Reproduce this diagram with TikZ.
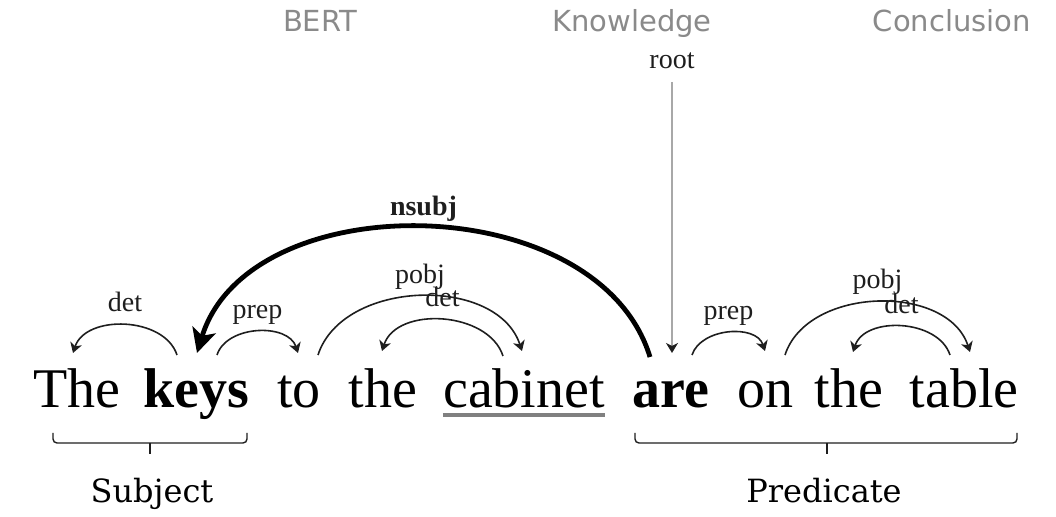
\documentclass[tikz,border=0pt]{standalone}
\usepackage{fontspec}
\setmainfont{Liberation Serif}
\newfontfamily\topfont{DejaVu Sans}
\newfontfamily\partfont{DejaVu Serif}
\usepackage{xcolor}
\usetikzlibrary{arrows.meta}

\definecolor{topgray}{HTML}{8A8A8A}
\definecolor{rootgray}{HTML}{A8A8A8}
\definecolor{arcink}{HTML}{1E1E1E}

\begin{document}
\begin{tikzpicture}[
      x=0.5pt, y=0.5pt,
      word/.style={anchor=base, inner sep=0pt, font=\fontsize{28}{32}\selectfont},
      lbl/.style={anchor=base, inner sep=0pt, yshift=6.5pt,
                  font=\fontsize{14}{16}\selectfont, text=arcink},
      toplbl/.style={anchor=base, inner sep=0pt, text=topgray,
                  font=\topfont\fontsize{14.5}{17}\selectfont},
      part/.style={anchor=base, inner sep=0pt, font=\partfont\fontsize{16}{19}\selectfont},
      dep/.style={draw=arcink, line width=0.8pt,
                  -{Stealth[length=5pt, width=6pt, inset=1.5pt]}},
      head/.style={draw=black, line width=2.4pt,
                  -{Stealth[length=12pt, width=12pt, inset=3pt]}},
      rootarr/.style={draw=rootgray, line width=1.2pt,
                  -{Stealth[length=5pt, width=6pt, inset=1.5pt, color=arcink]}},
      brk/.style={draw=arcink, line width=0.7pt, rounded corners=2pt}
    ]
      \useasboundingbox (0,-109) rectangle (1056,408);

      % slide headings
      \node[toplbl] (bert)  at (320,376) {BERT};
      \node[toplbl] (know)  at (632,376) {Knowledge};
      \node[toplbl] (concl) at (952,376) {Conclusion};

      % the sentence
      \node[word] (w1) at (77,0)  {The};
      \node[word] (w2) at (196,0) {\bfseries keys};
      \node[word] (w3) at (299,0) {to};
      \node[word] (w4) at (383,0) {the};
      \node[word] (w5) at (524,0) {cabinet};
      \node[word] (w6) at (671,0) {\bfseries are};
      \node[word] (w7) at (765,0) {on};
      \node[word] (w8) at (849,0) {the};
      \node[word] (w9) at (964,0) {table};
      \draw[gray, line width=1.6pt] ([yshift=-3.5pt]w5.base west) -- ([yshift=-3.5pt]w5.base east);

      % dependency arcs
      \draw[dep] ([shift={(-19,53)}]w2.base) to[out=108, in=72]
          node[lbl, pos=0.5] {det} ([shift={(-4,55)}]w1.base);
      \draw[dep] ([shift={(21,53)}]w2.base) to[out=72, in=108]
          node[lbl, pos=0.5] {prep} ([shift={(-1,55)}]w3.base);
      \draw[dep] ([shift={(19,53)}]w3.base) to[out=72, in=108]
          node[lbl, pos=0.5] {pobj} ([shift={(-2,57)}]w5.base);
      \draw[dep] ([shift={(-21,52)}]w5.base) to[out=108, in=72]
          node[lbl, pos=0.5] {det} ([shift={(-1,57)}]w4.base);
      \draw[head] ([shift={(-21,51)}]w6.base) to[out=107, in=73]
          node[lbl, pos=0.5, yshift=-0.5pt, font=\fontsize{14}{16}\selectfont\bfseries] {nsubj}
          ([shift={(1,55)}]w2.base);
      \draw[dep] ([shift={(21,53)}]w6.base) to[out=72, in=108]
          node[lbl, pos=0.5] {prep} ([shift={(0,57)}]w7.base);
      \draw[dep] ([shift={(20,53)}]w7.base) to[out=72, in=108]
          node[lbl, pos=0.5] {pobj} ([shift={(6,56)}]w9.base);
      \draw[dep] ([shift={(-14,53)}]w9.base) to[out=108, in=72]
          node[lbl, pos=0.5] {det} ([shift={(4,56)}]w8.base);

      % root
      \node[lbl, yshift=0pt] (root) at (672,326) {root};
      \draw[rootarr] ([yshift=-6.5pt]root.base) -- ([shift={(1,55)}]w6.base);

      % subject / predicate
      \draw[brk] (53,-25) |- (247,-35) -- (247,-25);
      \draw[brk] (150,-35) -- (150,-46);
      \node[part] (subj) at (152,-95) {Subject};
      \draw[brk] (635,-25) |- (1017,-35) -- (1017,-25);
      \draw[brk] (827,-35) -- (827,-46);
      \node[part] (pred) at (824,-95) {Predicate};
    \end{tikzpicture}
\end{document}
